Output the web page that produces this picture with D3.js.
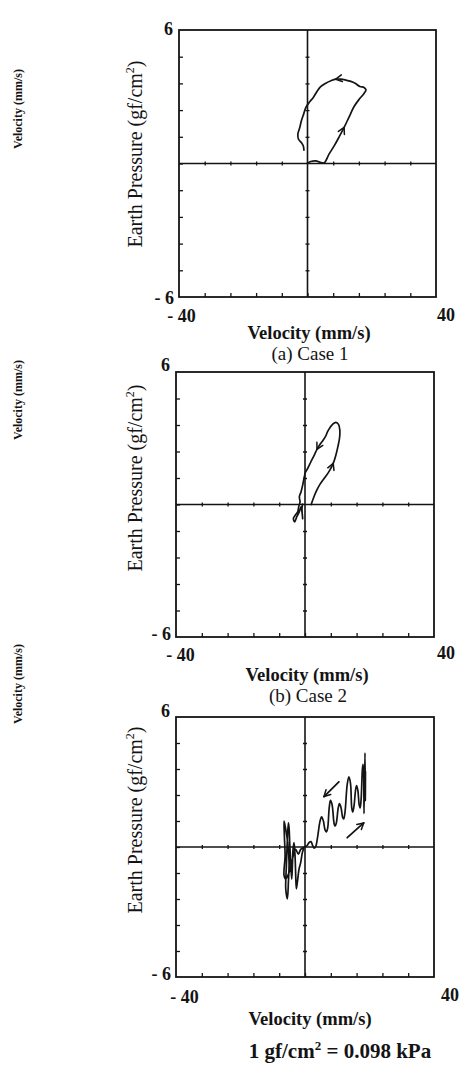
<!DOCTYPE html>
<html>
<head>
<meta charset="utf-8">
<script src="https://cdn.jsdelivr.net/npm/d3@7"></script>
<style>
  html, body { margin: 0; padding: 0; background: #fff; }
  svg { display: block; }
  text { font-family: "Liberation Serif", "Times New Roman", serif; fill: #141414; }
</style>
</head>
<body>
<svg id="fig" width="464" height="1068"></svg>
<script>
// ---- axis ticks and end labels ----
const velocityTicks = [-40, -32, -24, -16, -8, 0, 8, 16, 24, 32, 40];
const pressureTicks = [-6, -4.8, -3.6, -2.4, -1.2, 0, 1.2, 2.4, 3.6, 4.8, 6];
const velocityEndLabels = ["- 40", "40"];
const pressureEndLabels = ["- 6", "6"];
const caseTitles = ["(a) Case 1", "(b) Case 2", ""];

// ---- Case 1: velocity (mm/s) vs earth pressure (gf/cm²) ----
const case1Velocity = [-0.2, 1.0, 2.6, 3.8, 5.2, 6.7, 8.3, 9.9, 11.4, 13.0, 14.5, 16.1, 17.6, 18.2, 17.6,
  16.3, 14.8, 13.5, 11.9, 10.4, 8.8, 7.3, 5.7, 4.1, 3.1, 1.8, 0.5, -0.5, -1.2, -1.9, -2.4, -3.0, -2.8, -1.9, -1.3, -1.1];
const case1Pressure = [0, 0.09, 0.12, 0.06, 0.03, 0.42, 0.79, 1.21, 1.62, 2.11, 2.56, 2.89, 3.15, 3.31, 3.42,
  3.46, 3.61, 3.69, 3.75, 3.79, 3.79, 3.72, 3.61, 3.46, 3.27, 2.97, 2.74, 2.52, 2.22, 1.92, 1.62, 1.32, 1.09, 0.94, 0.79, 0.57];
const case1ArrowAt = [8, 20];

// ---- Case 2 ----
const case2Velocity = [1.85, 2.57, 3.40, 4.63, 6.08, 7.52, 8.75, 9.58, 10.2, 10.7, 10.8, 10.4, 9.58, 8.55, 7.72,
  7.0, 6.49, 5.66, 4.63, 3.71, 2.88, 1.85, 0.82, 0.1, -0.31, -0.72, -1.24, -1.75, -1.54, -1.96,
  -2.27, -2.99, -3.6, -3.19, -2.57, -1.75, -1.24, -0.93, -0.72, -0.93, -0.72];
const case2Pressure = [-0.03, 0.27, 0.57, 0.91, 1.21, 1.51, 1.86, 2.24, 2.62, 3.00, 3.37, 3.63, 3.72, 3.63, 3.48,
  3.30, 3.12, 2.92, 2.72, 2.50, 2.24, 1.94, 1.63, 1.45, 1.18, 0.88, 0.57, 0.35, 0.12, -0.11,
  -0.33, -0.48, -0.64, -0.79, -0.56, -0.33, -0.11, -0.33, -0.64, -0.18, 0.05];
const case2ArrowAt = [6, 19];

// ---- Case 3 ----
const case3Velocity = [-0.31, -0.82, -1.34, -1.85, -2.37, -2.68, -2.88, -3.09, -3.40, -3.71, -3.91, -4.12, -4.43,
  -4.74, -4.94, -5.15, -5.46, -5.77, -5.97, -5.46, -5.15, -4.94, -5.36, -5.97, -6.49, -6.39, -6.18, -6.49,
  -5.97, -4.94, -4.12, -3.40, -2.88, -2.06, -1.34, -0.62,
  0, 0.72, 1.24, 1.85, 2.3, 2.8, 3.3,
  4.0, 4.6, 5.15, 5.7,
  6.2, 6.6, 7.0,
  7.5, 7.9, 8.4,
  9.0, 9.3, 9.7,
  10.3, 10.7, 11.2,
  11.7, 12.0, 12.4,
  13.1, 13.6, 14.1,
  14.5, 14.8, 15.2,
  15.7, 16.0, 16.4,
  16.8, 17.1, 17.4,
  17.8, 18.0, 18.2,
  18.3, 18.6, 18.7, 18.75];
const case3Pressure = [-0.03, -0.26, -0.72, -1.02, -1.63, -1.93, -1.32, -0.41, 0.20, -0.11, -0.87, -1.48, -0.72,
  0.20, 0.88, 1.11, 0.35, -0.87, -1.93, -2.39, -1.63, -0.72, 0.20, 0.81, 1.19, 0.50, -0.41, -1.32,
  -1.48, -1.17, -0.72, -0.26, -0.11, -0.33, -0.11, -0.03,
  0, 0.08, 0.20, 0.25, 0.10, -0.05, 0.02,
  0.55, 1.15, 1.39, 1.20,
  0.80, 0.70, 0.85,
  1.80, 2.15, 1.95,
  1.10, 0.96, 1.10,
  1.80, 2.00, 1.80,
  1.35, 1.30, 1.60,
  2.90, 3.24, 2.95,
  1.80, 1.61, 1.90,
  2.65, 2.83, 2.60,
  1.95, 1.81, 2.20,
  3.60, 3.82, 3.30,
  1.54, 4.35, 2.15, 3.50];
// free-standing direction arrows (tail -> head)
const case3ArrowTailV = [10.5, 13.1];
const case3ArrowTailP = [3.01, 0.43];
const case3ArrowHeadV = [5.9, 18.2];
const case3ArrowHeadP = [2.33, 1.11];

// ---- page layout ----
const ink = "#141414";
const layout = [
  { box: [179, 436, 30, 297], sixY: 35, minusSixY: 304, leftEndX: 181.5, rightEndX: 446, minusEndY: 322, plusEndY: 321,
    velX: 309, velY: 339, titleY: 360, pressCY: 154, sideCY: 109 },
  { box: [176, 434, 372, 637], sixY: 371, minusSixY: 640, leftEndX: 180.5, rightEndX: 446, minusEndY: 661, plusEndY: 659,
    velX: 307, velY: 681, titleY: 702, pressCY: 478, sideCY: 400 },
  { box: [176, 434, 717, 977], sixY: 717, minusSixY: 980, leftEndX: 184.5, rightEndX: 450, minusEndY: 1003, plusEndY: 1001,
    velX: 310, velY: 1025, titleY: null, pressCY: 820, sideCY: 684 }
];

const svg = d3.select("#fig");

function styleTicks(sel) {
  sel.select(".domain").remove();
  sel.selectAll(".tick text").remove();
  sel.selectAll(".tick line").attr("stroke", ink).attr("stroke-width", 1.3);
}

function arrowHead(g, tx, ty, angle, len) {
  const spread = 0.5;
  [angle + Math.PI - spread, angle + Math.PI + spread].forEach(a => {
    g.append("line")
      .attr("x1", tx).attr("y1", ty)
      .attr("x2", tx + len * Math.cos(a)).attr("y2", ty + len * Math.sin(a))
      .attr("stroke", ink).attr("stroke-width", 1.5).attr("stroke-linecap", "round");
  });
}

function drawPanel(L, velocity, pressure, arrowAt, title, freeArrows) {
  const [x0, x1, y0, y1] = L.box;
  const x = d3.scaleLinear().domain([velocityTicks[0], velocityTicks[velocityTicks.length - 1]]).range([x0, x1]);
  const y = d3.scaleLinear().domain([pressureTicks[0], pressureTicks[pressureTicks.length - 1]]).range([y1, y0]);
  const innerX = velocityTicks.slice(1, -1);
  const innerY = pressureTicks.slice(1, -1);
  const g = svg.append("g");

  // frame
  g.append("rect").attr("x", x0).attr("y", y0).attr("width", x1 - x0).attr("height", y1 - y0)
    .attr("fill", "none").attr("stroke", ink).attr("stroke-width", 1.8);

  // inward ticks on the left and bottom edges
  g.append("g").attr("transform", `translate(${x0},0)`)
    .call(d3.axisRight(y).tickValues(innerY).tickSize(4).tickFormat("")).call(styleTicks);
  g.append("g").attr("transform", `translate(0,${y1})`)
    .call(d3.axisTop(x).tickValues(innerX).tickSize(4).tickFormat("")).call(styleTicks);

  // zero lines
  g.append("line").attr("x1", x(0)).attr("x2", x(0)).attr("y1", y0).attr("y2", y1)
    .attr("stroke", ink).attr("stroke-width", 1.6);
  g.append("line").attr("x1", x0).attr("x2", x1).attr("y1", y(0)).attr("y2", y(0))
    .attr("stroke", ink).attr("stroke-width", 1.6);

  // small cross ticks along the zero lines
  const zx = x(0), zy = y(0);
  g.append("g").attr("transform", `translate(${zx},0)`)
    .call(d3.axisLeft(y).tickValues(innerY.filter(v => v !== 0)).tickSize(2).tickFormat("")).call(styleTicks);
  g.append("g").attr("transform", `translate(${zx},0)`)
    .call(d3.axisRight(y).tickValues(innerY.filter(v => v !== 0)).tickSize(2).tickFormat("")).call(styleTicks);
  g.append("g").attr("transform", `translate(0,${zy})`)
    .call(d3.axisTop(x).tickValues(innerX.filter(v => v !== 0)).tickSize(2).tickFormat("")).call(styleTicks);
  g.append("g").attr("transform", `translate(0,${zy})`)
    .call(d3.axisBottom(x).tickValues(innerX.filter(v => v !== 0)).tickSize(2).tickFormat("")).call(styleTicks);

  // end labels
  g.append("text").attr("x", x0 - 6).attr("y", L.sixY).attr("text-anchor", "end")
    .attr("font-size", 18).attr("font-weight", "bold").text(pressureEndLabels[1]);
  g.append("text").attr("x", x0 - 5).attr("y", L.minusSixY).attr("text-anchor", "end")
    .attr("font-size", 18).attr("font-weight", "bold").text(pressureEndLabels[0]);
  g.append("text").attr("x", L.leftEndX).attr("y", L.minusEndY).attr("text-anchor", "middle")
    .attr("font-size", 18).attr("font-weight", "bold").text(velocityEndLabels[0]);
  g.append("text").attr("x", L.rightEndX).attr("y", L.plusEndY).attr("text-anchor", "middle")
    .attr("font-size", 18).attr("font-weight", "bold").text(velocityEndLabels[1]);

  // axis titles
  g.append("text").attr("x", L.velX).attr("y", L.velY).attr("text-anchor", "middle")
    .attr("font-size", 18.5).attr("font-weight", "bold").text("Velocity (mm/s)");
  if (title) {
    g.append("text").attr("x", L.velX + 1).attr("y", L.titleY).attr("text-anchor", "middle")
      .attr("font-size", 19).text(title);
  }
  const pt = g.append("text").attr("transform", `translate(142,${L.pressCY}) rotate(-90)`)
    .attr("text-anchor", "middle").attr("font-size", 20);
  pt.append("tspan").text("Earth Pressure (gf/cm");
  pt.append("tspan").attr("font-size", 12).attr("dy", -8).text("2");
  pt.append("tspan").attr("dy", 8).text(")");

  g.append("text").attr("transform", `translate(22,${L.sideCY}) rotate(-90)`)
    .attr("text-anchor", "middle").attr("font-size", 12).attr("font-weight", "bold").text("Velocity (mm/s)");

  // trajectory
  const pts = velocity.map((v, i) => [x(v), y(pressure[i])]);
  const line = d3.line().curve(d3.curveCatmullRom.alpha(0.5));
  g.append("path").attr("d", line(pts)).attr("fill", "none")
    .attr("stroke", ink).attr("stroke-width", 1.7).attr("stroke-linejoin", "round");

  // arrowheads riding on the trajectory
  arrowAt.forEach(i => {
    const a = pts[i - 1], b = pts[i + 1];
    arrowHead(g, pts[i][0], pts[i][1], Math.atan2(b[1] - a[1], b[0] - a[0]), 7);
  });

  // free-standing arrows
  if (freeArrows) {
    freeArrows.tailV.forEach((tv, i) => {
      const tx = x(tv), ty = y(freeArrows.tailP[i]);
      const hx = x(freeArrows.headV[i]), hy = y(freeArrows.headP[i]);
      g.append("line").attr("x1", tx).attr("y1", ty).attr("x2", hx).attr("y2", hy)
        .attr("stroke", ink).attr("stroke-width", 1.8).attr("stroke-linecap", "round");
      arrowHead(g, hx, hy, Math.atan2(hy - ty, hx - tx), 7);
    });
  }
}

drawPanel(layout[0], case1Velocity, case1Pressure, case1ArrowAt, caseTitles[0], null);
drawPanel(layout[1], case2Velocity, case2Pressure, case2ArrowAt, caseTitles[1], null);
drawPanel(layout[2], case3Velocity, case3Pressure, [], caseTitles[2],
  { tailV: case3ArrowTailV, tailP: case3ArrowTailP, headV: case3ArrowHeadV, headP: case3ArrowHeadP });

// unit conversion note
const note = svg.append("text").attr("x", 340).attr("y", 1058).attr("text-anchor", "middle")
  .attr("font-size", 21).attr("font-weight", "bold");
note.append("tspan").text("1 gf/cm");
note.append("tspan").attr("font-size", 13).attr("dy", -8).text("2");
note.append("tspan").attr("dy", 8).text(" = 0.098 kPa");
</script>
</body>
</html>
